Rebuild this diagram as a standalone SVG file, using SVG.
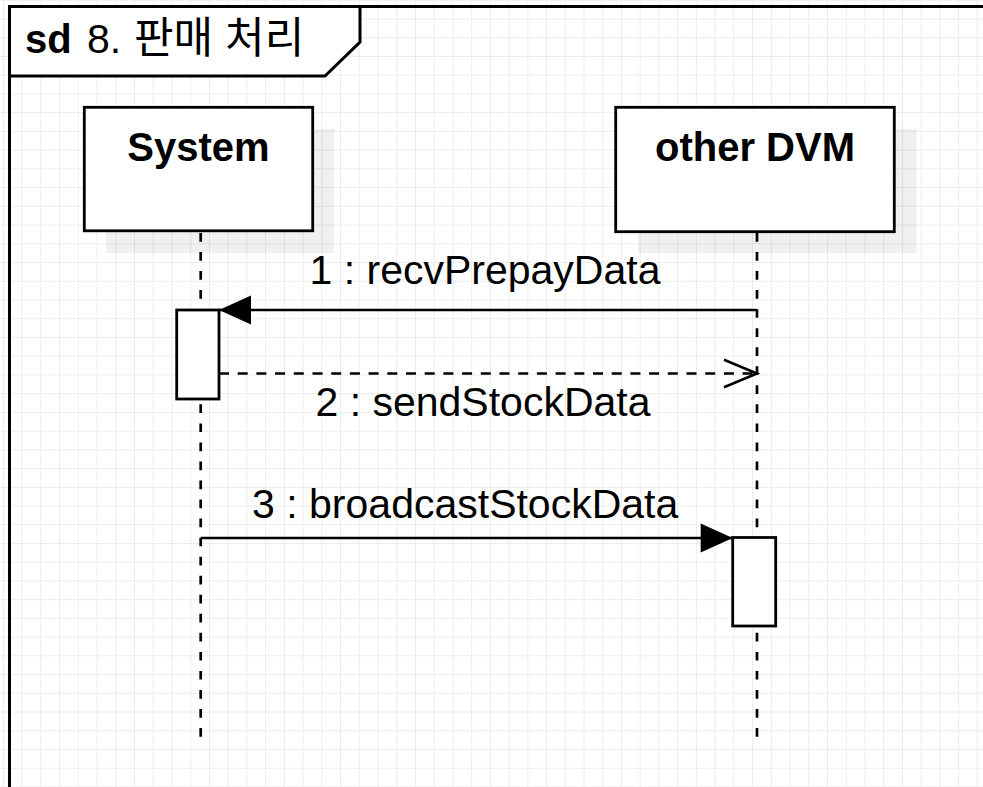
<svg xmlns="http://www.w3.org/2000/svg" width="983" height="787" viewBox="0 0 983 787">
<defs>
<pattern id="grid" patternUnits="userSpaceOnUse" x="2.9" y="-0.2" width="18.73" height="18.73">
<path d="M0.5 0 V18.73 M0 0.5 H18.73" stroke="#ececec" stroke-width="1" fill="none"/>
</pattern>
<marker id="block" markerUnits="userSpaceOnUse" viewBox="0 0 34 30" refX="32" refY="14.5" markerWidth="34" markerHeight="30" orient="auto" overflow="visible">
<path d="M0 0 L32 14.5 L0 29 Z" fill="#000"/>
</marker>
<marker id="open" markerUnits="userSpaceOnUse" viewBox="0 0 36 30" refX="33" refY="13.7" markerWidth="36" markerHeight="30" orient="auto" overflow="visible">
<path d="M0 0 L33 13.7 L0 27.4" fill="none" stroke="#000" stroke-width="2.6"/>
</marker>
</defs>
<style>
.txt{font-family:"Liberation Sans",Arial,"Noto Sans CJK KR",sans-serif;font-size:41px;fill:#000}
.bold{font-weight:bold;font-size:40px}
.ko{font-size:43px}
.box{fill:#fff;stroke:#000;stroke-width:2.8}
.shadow{fill:#000;fill-opacity:0.06}
.life{stroke:#000;stroke-width:2.7;stroke-dasharray:8.7 10.34;fill:none}
.msg{stroke:#000;stroke-width:2.6;fill:none}
.ret{stroke:#000;stroke-width:2.6;fill:none;stroke-dasharray:10 8.7}
</style>
<rect width="983" height="787" fill="#fff"/>
<rect width="983" height="787" fill="url(#grid)"/>

<g id="frame">
<path d="M9.5 790 V6.5 H990" fill="none" stroke="#000" stroke-width="3"/>
<path d="M9.5 6.5 H360 V42 L325 76 H9.5 Z" fill="#fff" stroke="#000" stroke-width="3" stroke-linejoin="miter"/>
<text class="txt" x="25" y="53"><tspan class="bold">sd</tspan><tspan x="87">8.</tspan><tspan class="ko" x="134">판매 처리</tspan></text>
</g>

<g id="system">
<rect class="shadow" x="106" y="129" width="228" height="124"/>
<line class="life" x1="200.7" y1="233" x2="200.7" y2="737"/>
<rect class="box" x="84.3" y="107.3" width="228.4" height="123.5"/>
<text class="txt bold" x="198.5" y="161" text-anchor="middle">System</text>
<rect id="act-system" class="box" x="176.7" y="310" width="42.3" height="89"/>
</g>

<g id="otherdvm">
<rect class="shadow" x="638" y="129" width="278.6" height="124"/>
<line class="life" x1="757" y1="233" x2="757" y2="737"/>
<rect class="box" x="615.7" y="107.3" width="278.6" height="124.4"/>
<text class="txt bold" x="755" y="161" text-anchor="middle">other DVM</text>
<rect id="act-other" class="box" x="732.7" y="537.5" width="43" height="88.5"/>
</g>

<g id="connectors">
<line class="msg" x1="757" y1="310" x2="219" y2="310" marker-end="url(#block)"/>
<text class="txt" x="485" y="284.3" text-anchor="middle">1 : recvPrepayData</text>
<line class="ret" x1="219" y1="373.5" x2="757" y2="373.5" marker-end="url(#open)"/>
<text class="txt" x="483" y="415.7" text-anchor="middle">2 : sendStockData</text>
<line class="msg" x1="200.7" y1="538" x2="732.7" y2="538" marker-end="url(#block)"/>
<text class="txt" x="465.2" y="518" text-anchor="middle">3 : broadcastStockData</text>
</g>
</svg>
